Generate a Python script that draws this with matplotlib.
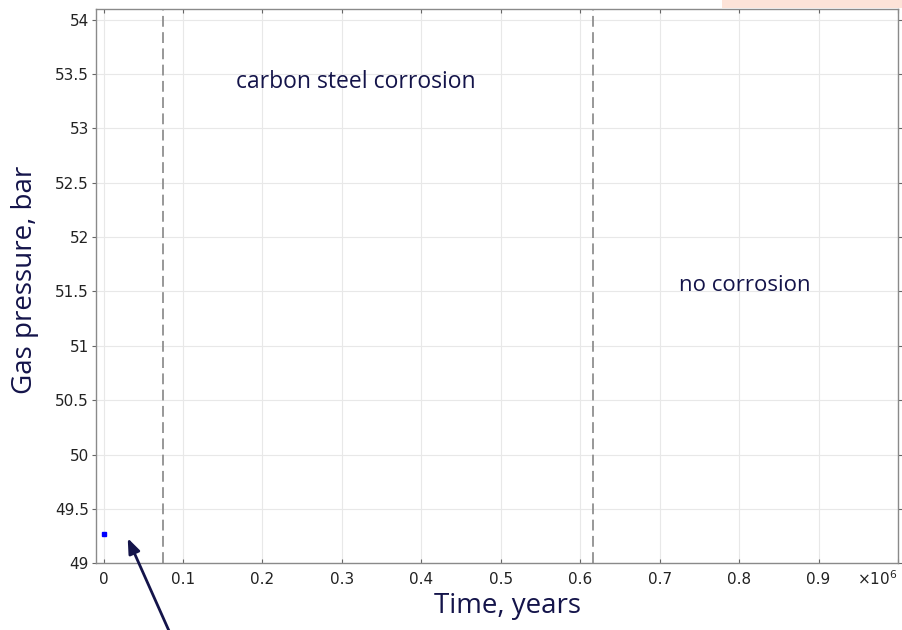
import matplotlib
matplotlib.use("Agg")
import matplotlib.pyplot as plt
from matplotlib.ticker import FuncFormatter
from matplotlib.patches import Rectangle

# data
time_years = [0.0]
gas_pressure = [49.27]
phase_bounds = [0.075e6, 0.616e6]
phase_labels = ["carbon steel corrosion", "no corrosion"]
phase_label_pos = [(0.318e6, 53.425), (0.807e6, 51.557)]
x_ticks = [0, 0.1e6, 0.2e6, 0.3e6, 0.4e6, 0.5e6, 0.6e6, 0.7e6, 0.8e6, 0.9e6, 1.0e6]
y_ticks = [49, 49.5, 50, 50.5, 51, 51.5, 52, 52.5, 53, 53.5, 54]

navy = "#14144a"
label_font = "Open Sans"

fig = plt.figure(figsize=(9.03, 6.3), dpi=100)
fig.patch.set_facecolor("white")
ax = fig.add_axes([0.1063, 0.1058, 0.8882, 0.8799])

# faint peach box cut off at the top right
fig.patches.append(Rectangle((0.80, 0.987), 0.20, 0.02, transform=fig.transFigure,
                             facecolor="#fde3d8", edgecolor="none", zorder=0))

ax.set_xlim(-0.0095e6, 1.0e6)
ax.set_ylim(49, 54.097)
ax.set_xticks(x_ticks)
ax.set_yticks(y_ticks)

def xfmt(v, pos):
    if v >= 0.95e6:
        return ""
    if v == 0:
        return "0"
    return "%.1f" % (v / 1e6)

ax.xaxis.set_major_formatter(FuncFormatter(xfmt))
ax.yaxis.set_major_formatter(FuncFormatter(lambda v, p: "%g" % v))

ax.grid(True, color="#e8e8e8", linewidth=0.8)
ax.set_axisbelow(True)
for s in ax.spines.values():
    s.set_color("#8a8a8a")
    s.set_linewidth(1.0)
ax.tick_params(axis="x", direction="in", length=3, color="#666666", labelsize=11,
               labelcolor="#222222", top=True, pad=6)
ax.tick_params(axis="y", direction="out", length=3, color="#666666", labelsize=11,
               labelcolor="#222222", right=True, pad=2)

ax.plot(time_years, gas_pressure, "s", color="#0000ff", markersize=3.5, clip_on=False)

for b in phase_bounds:
    ax.axvline(b, color="#909090", linestyle=(0, (6, 3)), linewidth=1.3)

sizes = [16.5, 16]
for txt, (px, py), fs in zip(phase_labels, phase_label_pos, sizes):
    ax.text(px, py, txt, color=navy, fontsize=fs, family=label_font,
            ha="center", va="center")

ax.text(0.999, -0.027, r"$\times10^{6}$", transform=ax.transAxes, ha="right",
        va="center", fontsize=11, color="#222222")

fig.text(0.028, 0.555, "Gas pressure, bar", rotation=90, color=navy, fontsize=20,
         family=label_font, ha="center", va="center")
fig.text(0.562, 0.038, "Time, years", color=navy, fontsize=20, family=label_font,
         ha="center", va="center")

# arrow pointing at the single data point
ax.annotate("", xy=(0.029e6, 49.255), xycoords="data",
            xytext=(170 / 903, -0.005), textcoords="figure fraction",
            arrowprops=dict(arrowstyle="-|>,head_length=0.9,head_width=0.35",
                            color=navy, linewidth=2.0),
            annotation_clip=False)

fig.savefig("out.png", dpi=100)
